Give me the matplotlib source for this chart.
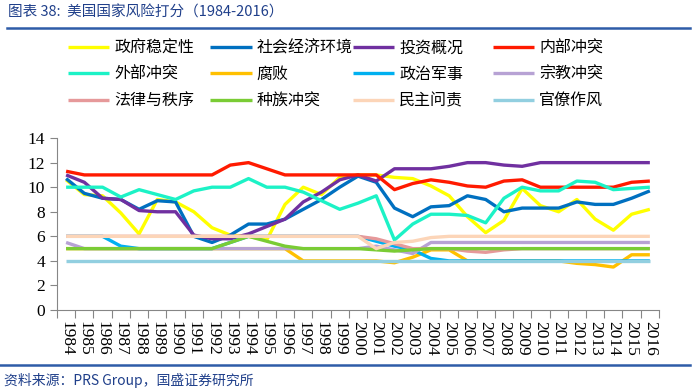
import numpy as np
import matplotlib.pyplot as plt
from matplotlib.lines import Line2D

plt.rcParams['font.family'] = ['Noto Sans CJK SC', 'DejaVu Sans']

# data (1984-2016)
years = [str(y) for y in range(1984, 2017)]

gov_stability = [10.6, 9.4, 9.3, 7.9, 6.2, 9.0, 8.8, 8.0, 6.7, 6.1, 6.0, 5.7, 8.6,
                 10.0, 9.4, 10.8, 11.0, 11.0, 10.8, 10.7, 10.1, 9.3, 7.6, 6.3, 7.3,
                 9.9, 8.5, 8.0, 9.0, 7.4, 6.5, 7.8, 8.2]
socio_econ = [10.7, 9.5, 9.1, 9.0, 8.2, 8.9, 8.8, 6.0, 5.5, 6.1, 7.0, 7.0, 7.4,
              8.2, 9.0, 10.0, 10.9, 10.4, 8.3, 7.6, 8.4, 8.5, 9.3, 9.0, 8.0,
              8.3, 8.3, 8.3, 8.8, 8.6, 8.6, 9.1, 9.7]
investment = [11.0, 10.4, 9.1, 9.0, 8.1, 8.0, 8.0, 6.1, 5.8, 5.8, 6.2, 6.8, 7.4,
              8.8, 9.6, 10.6, 11.0, 10.5, 11.5, 11.5, 11.5, 11.7, 12.0, 12.0, 11.8,
              11.7, 12.0, 12.0, 12.0, 12.0, 12.0, 12.0, 12.0]
internal = [11.3, 11.0, 11.0, 11.0, 11.0, 11.0, 11.0, 11.0, 11.0, 11.8, 12.0, 11.5, 11.0,
            11.0, 11.0, 11.0, 11.0, 11.0, 9.8, 10.3, 10.6, 10.4, 10.1, 10.0, 10.5,
            10.6, 10.0, 10.0, 10.0, 10.0, 10.0, 10.4, 10.5]
external = [10.0, 10.0, 10.0, 9.2, 9.8, 9.4, 9.0, 9.7, 10.0, 10.0, 10.7, 10.0, 10.0,
            9.6, 8.9, 8.2, 8.7, 9.3, 5.7, 7.0, 7.8, 7.8, 7.7, 7.1, 9.1,
            10.0, 9.7, 9.7, 10.5, 10.4, 9.8, 9.9, 10.0]
corruption = [5.0, 5.0, 5.0, 5.0, 5.0, 5.0, 5.0, 5.0, 5.0, 5.0, 5.0, 5.0, 5.0,
              4.0, 4.0, 4.0, 4.0, 4.0, 3.85, 4.3, 4.9, 4.9, 4.0, 4.0, 4.0,
              4.0, 4.0, 4.0, 3.8, 3.7, 3.5, 4.5, 4.5]
military = [6.0, 6.0, 6.0, 5.2, 5.0, 5.0, 5.0, 5.0, 5.0, 5.5, 6.0, 6.0, 6.0,
            6.0, 6.0, 6.0, 6.0, 5.6, 5.2, 4.9, 4.2, 4.0, 4.0, 4.0, 4.0,
            4.0, 4.0, 4.0, 4.0, 4.0, 4.0, 4.0, 4.0]
religion = [5.5, 5.0, 5.0, 5.0, 5.0, 5.0, 5.0, 5.0, 5.0, 5.0, 5.0, 5.0, 5.0,
            5.0, 5.0, 5.0, 5.0, 5.2, 4.9, 4.6, 5.5, 5.5, 5.5, 5.5, 5.5,
            5.5, 5.5, 5.5, 5.5, 5.5, 5.5, 5.5, 5.5]
law_order = [6.0, 6.0, 6.0, 6.0, 6.0, 6.0, 6.0, 6.0, 6.0, 6.0, 6.0, 6.0, 6.0,
             6.0, 6.0, 6.0, 6.0, 5.8, 5.4, 5.0, 5.0, 5.0, 4.8, 4.7, 4.9,
             5.0, 5.0, 5.0, 5.0, 5.0, 5.0, 5.0, 5.0]
ethnic = [5.0, 5.0, 5.0, 5.0, 5.0, 5.0, 5.0, 5.0, 5.0, 5.5, 6.0, 5.6, 5.2,
          5.0, 5.0, 5.0, 5.0, 4.9, 4.8, 4.9, 5.0, 5.0, 5.0, 5.0, 5.0,
          5.0, 5.0, 5.0, 5.0, 5.0, 5.0, 5.0, 5.0]
democracy = [6.0, 6.0, 6.0, 6.0, 6.0, 6.0, 6.0, 6.0, 6.0, 6.0, 6.0, 6.0, 6.0,
             6.0, 6.0, 6.0, 6.0, 5.0, 5.5, 5.6, 5.9, 6.0, 6.0, 6.0, 6.0,
             6.0, 6.0, 6.0, 6.0, 6.0, 6.0, 6.0, 6.0]
bureaucracy = [4.0, 4.0, 4.0, 4.0, 4.0, 4.0, 4.0, 4.0, 4.0, 4.0, 4.0, 4.0, 4.0,
               4.0, 4.0, 4.0, 4.0, 4.0, 4.0, 4.0, 4.0, 4.0, 4.0, 4.0, 4.0,
               4.0, 4.0, 4.0, 4.0, 4.0, 4.0, 4.0, 4.0]

names = ['政府稳定性', '社会经济环境', '投资概况', '内部冲突', '外部冲突', '腐败',
         '政治军事', '宗教冲突', '法律与秩序', '种族冲突', '民主问责', '官僚作风']
series = [gov_stability, socio_econ, investment, internal, external, corruption,
          military, religion, law_order, ethnic, democracy, bureaucracy]
colors = ['#FFFF00', '#0070C0', '#7030A0', '#FF1A00', '#1CF2C6', '#FFC000',
          '#00B0F0', '#B7A2D4', '#E6999A', '#7ACC35', '#FCD5B8', '#92CFE0']

fig = plt.figure(figsize=(7, 3.9), dpi=100)
ax = fig.add_axes([0.0814, 0.205, 0.860, 0.441])

x = np.arange(len(years))
handles = []
for name, vals, c in zip(names, series, colors):
    h, = ax.plot(x, vals, color=c, lw=2.4, label=name, solid_capstyle='butt')
    handles.append(h)

ax.set_xlim(-0.5, len(years) - 0.5)
ax.set_ylim(0, 14)
ax.set_yticks(np.arange(0, 15, 2))
ax.set_xticks(x)
ax.set_xticklabels(years, rotation=-90, family='Liberation Serif', fontsize=12.5)
ax.set_xticks(np.arange(-0.5, len(years)), minor=True)
ax.tick_params(axis='x', which='major', length=0, pad=8)
ax.tick_params(axis='x', which='minor', length=6, color='#868686', width=0.8)
ax.tick_params(axis='y', length=5, color='#868686', width=0.8)
for lab in ax.get_yticklabels():
    lab.set_family('Liberation Serif')
    lab.set_fontsize(12.5)
for s in ['top', 'right']:
    ax.spines[s].set_visible(False)
for s in ['left', 'bottom']:
    ax.spines[s].set_color('#868686')
    ax.spines[s].set_linewidth(0.8)

# legend in four fixed columns, three rows each
col_x = [0.097, 0.300, 0.504, 0.704]
for i in range(4):
    hs = [handles[i], handles[i + 4], handles[i + 8]]
    fig.legend(handles=hs, labels=[h.get_label() for h in hs],
               loc='upper left', bbox_to_anchor=(col_x[i], 0.898),
               frameon=False, fontsize=11.5, handlelength=2.6,
               handletextpad=0.3, labelspacing=0.58, borderaxespad=0,
               borderpad=0)

title_c = '#1F3F8A'
fig.text(0.012, 0.967, '图表 38:  美国国家风险打分（1984-2016）', color=title_c,
         fontsize=10.5, style='italic', va='center', ha='left')
fig.add_artist(Line2D([0.01, 0.985], [0.928, 0.928], color='#2E5CA8', lw=1.8))
fig.add_artist(Line2D([0.0, 0.985], [0.063, 0.063], color='#2E5CA8', lw=1.8))
fig.text(0.005, 0.025, '资料来源：PRS Group，国盛证券研究所', color=title_c,
         fontsize=10, style='italic', va='center', ha='left')

fig.savefig('out.png', dpi=100)
